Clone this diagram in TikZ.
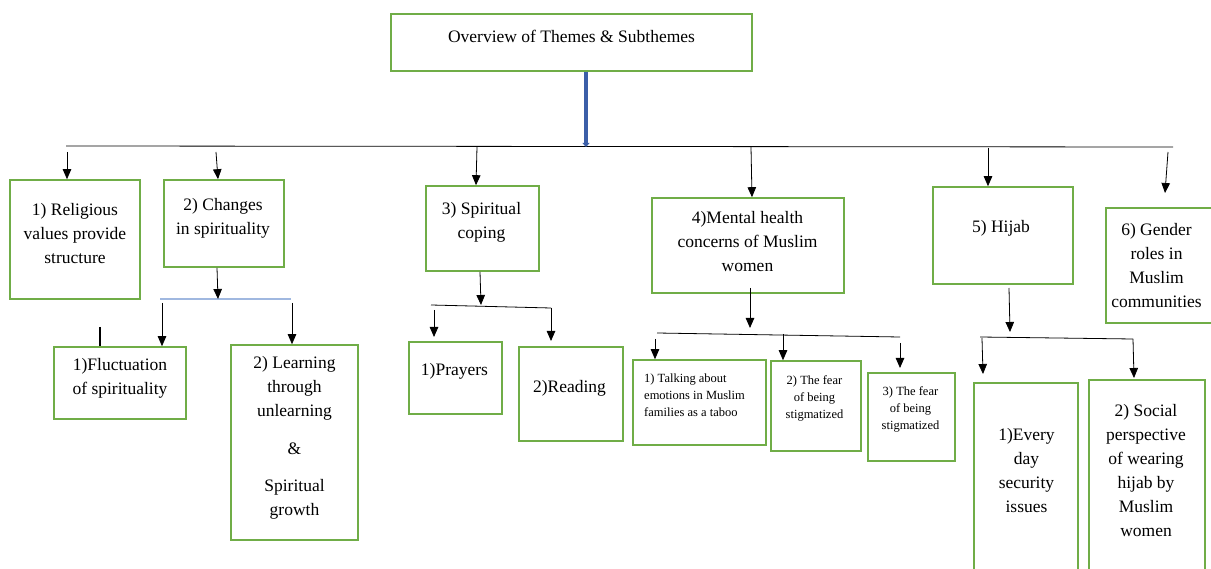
\documentclass[tikz,border=0pt]{standalone}
\usepackage{fontspec}
\setmainfont{Liberation Serif}
\usetikzlibrary{arrows.meta}
\definecolor{boxgreen}{RGB}{112,173,71}
\definecolor{darkblue}{RGB}{60,95,168}
\definecolor{lightblue}{RGB}{160,184,224}
\tikzset{
  box/.style={draw=boxgreen, line width=1.6pt, inner sep=0pt},
  txt/.style={align=center, font=\fontsize{17.5}{24}\selectfont, inner sep=0pt},
  smalltxt/.style={font=\fontsize{12.5}{17}\selectfont, inner sep=0pt},
  conn/.style={line width=0.8pt, black},
  arr/.style={conn, -{Triangle[length=10pt,width=8.5pt]}},
}
\begin{document}
\begin{tikzpicture}[x=1pt, y=-1pt]
\useasboundingbox (0,0) rectangle (1211,569);
\clip (0,0) rectangle (1211,569);

% ---------- boxes ----------
\node[box, minimum width=361, minimum height=57] (title) at (571.5,42.5) {};
\node[txt] (ttitle) at (571.5,36) {Overview of Themes \& Subthemes};

\node[box, minimum width=130, minimum height=119] (b1) at (75,239.5) {};
\node[txt] (t1) at (75,233.5) {1) Religious\\values provide\\structure};

\node[box, minimum width=120, minimum height=87] (b2) at (224,223.5) {};
\node[txt] (t2) at (223,218) {2) Changes\\in spirituality};

\node[box, minimum width=132, minimum height=72] (f1) at (120,383) {};
\node[txt] (tf1) at (120,378) {1)Fluctuation\\of spirituality};

\node[box, minimum width=127, minimum height=195] (f2) at (294.5,442.5) {};
\node[txt] (tf2) at (294.5,438) {2) Learning\\through\\unlearning\\[14pt]\&\\[13pt]Spiritual\\growth};

\node[box, minimum width=113, minimum height=85] (b3) at (482.5,228.5) {};
\node[txt] (t3) at (481.5,222) {3) Spiritual\\coping};

\node[box, minimum width=93, minimum height=72] (p1) at (455.5,378) {};
\node[txt] (tp1) at (454.5,371) {1)Prayers};

\node[box, minimum width=104, minimum height=94] (p2) at (571,394) {};
\node[txt] (tp2) at (569.5,388) {2)Reading};

\node[box, minimum width=192, minimum height=95] (b4) at (748,245.5) {};
\node[txt] (t4) at (747.5,241.5) {4)Mental health\\concerns of Muslim\\women};

\node[box, minimum width=133, minimum height=85] (m1) at (699.5,402.5) {};
\node[smalltxt, align=left, anchor=west] (tm1) at (644,395) {1) Talking about\\emotions in Muslim\\families as a taboo};

\node[box, minimum width=90, minimum height=90] (m2) at (816,406) {};
\node[smalltxt, align=center] (tm2) at (814.5,398) {2) The fear\\of being\\stigmatized};

\node[box, minimum width=87, minimum height=88] (m3) at (911.5,417) {};
\node[smalltxt, align=center] (tm3) at (910.5,409) {3) The fear\\of being\\stigmatized};

\node[box, minimum width=140, minimum height=97] (b5) at (1003,235.5) {};
\node[txt] (t5) at (1001,228) {5) Hijab};

\node[box, minimum width=104, minimum height=197] (h1) at (1026,481.5) {};
\node[txt] (th1) at (1026.5,471) {1)Every\\day\\security\\issues};

\node[box, minimum width=116, minimum height=200] (h2) at (1147,480) {};
\node[txt] (th2) at (1146,471) {2) Social\\perspective\\of wearing\\hijab by\\Muslim\\women};

\node[box, minimum width=109, minimum height=115] (b6) at (1160.5,265.5) {};
\node[txt] (t6) at (1156.5,265.5) {6) Gender\\roles in\\Muslim\\communities};

% ---------- main bus ----------
\coordinate (busL) at (66,146);
\coordinate (busR) at (1173,147);
\coordinate (busM) at (586,147);
\draw[conn] (busL) -- (busR);
\draw[darkblue, line width=4pt, -{Triangle[length=4pt,width=7pt]}] (title.south -| 586,0) -- (busM);

\coordinate (s1) at (67,152);
\coordinate (s2) at (216,152);
\coordinate (s3) at (477,147);
\coordinate (s4) at (751,147);
\coordinate (s5) at (988,148);
\coordinate (s6) at (1168,152);
\coordinate (e6) at (1165,193);
\draw[arr] (s1) -- (b1.north -| 67,0);
\draw[arr] (s2) -- (b2.north -| 218,0);
\draw[arr] (s3) -- (b3.north -| 476,0);
\draw[arr] (s4) -- (b4.north -| 752,0);
\draw[arr] (s5) -- (b5.north -| 988,0);
\draw[arr] (s6) -- (e6);

% ---------- branch 2 ----------
\coordinate (bus2L) at (160,299);
\coordinate (bus2R) at (291,299);
\coordinate (bus2M) at (218,299);
\draw[lightblue, line width=1.3pt] (bus2L) -- (bus2R);
\draw[arr] (b2.south -| 217,0) -- (bus2M);
\coordinate (s21) at (162,303);
\coordinate (s22) at (292,303);
\draw[arr] (s21) -- (f1.north -| 162,0);
\draw[arr] (s22) -- (f2.north -| 292,0);
\coordinate (st1) at (100,327);
\draw[line width=1.2pt] (st1) -- (f1.north -| 100,0);

% ---------- branch 3 ----------
\coordinate (bus3L) at (431,305);
\coordinate (bus3R) at (551,308);
\coordinate (bus3M) at (481,305);
\draw[conn] (bus3L) -- (bus3R);
\draw[arr] (b3.south -| 480,0) -- (bus3M);
\coordinate (s31) at (434,310);
\coordinate (e31) at (434,337);
\coordinate (e32) at (551,341);
\draw[arr] (s31) -- (e31);
\draw[arr] (bus3R) -- (e32);

% ---------- branch 4 ----------
\coordinate (bus4L) at (657,333);
\coordinate (bus4R) at (900,337);
\coordinate (s4top) at (750,288);
\coordinate (bus4M) at (750,328);
\draw[conn] (bus4L) -- (bus4R);
\draw[arr] (s4top) -- (bus4M);
\coordinate (s41) at (655,339);
\coordinate (s42) at (783,334);
\coordinate (s43) at (900,343);
\coordinate (e43) at (900,368);
\draw[arr] (s41) -- (m1.north -| 655,0);
\draw[arr] (s42) -- (m2.north -| 783,0);
\draw[arr] (s43) -- (e43);

% ---------- branch 5 ----------
\coordinate (bus5L) at (980,337);
\coordinate (bus5R) at (1133,339);
\coordinate (s5top) at (1009,288);
\coordinate (bus5M) at (1010,332);
\draw[conn] (bus5L) -- (bus5R);
\draw[arr] (s5top) -- (bus5M);
\coordinate (s51) at (982,338);
\coordinate (e51) at (983,374);
\coordinate (e52) at (1134,378);
\draw[arr] (s51) -- (e51);
\draw[arr] (bus5R) -- (e52);
\end{tikzpicture}
\end{document}
